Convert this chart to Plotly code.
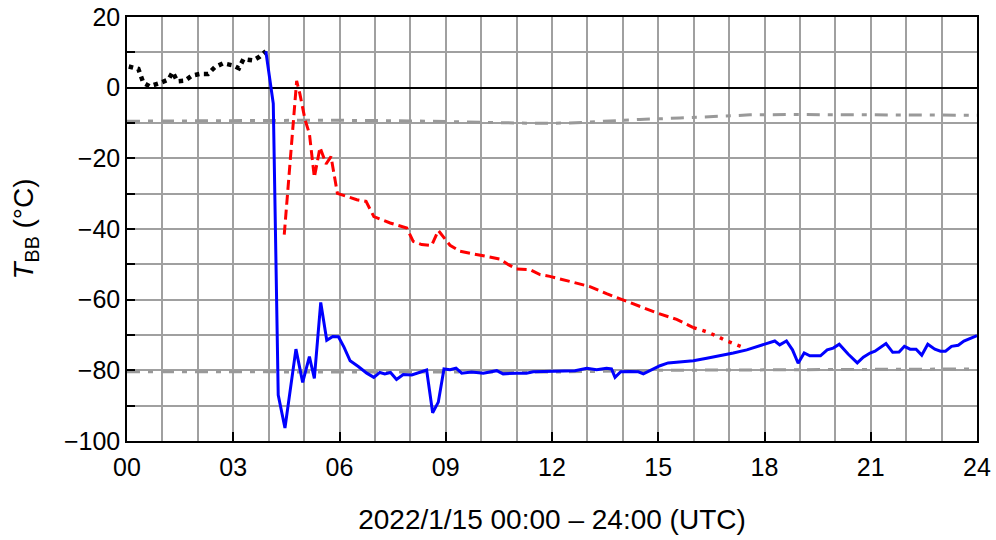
import plotly.graph_objects as go

# Hours since 2022-01-15 00:00 UTC and brightness temperature T_BB (deg C)

# Before the eruption (dotted black)
pre_t = [0.05, 0.32, 0.46, 0.64, 0.93, 1.17, 1.29, 1.42, 1.64, 1.83, 2.06, 2.29,
         2.48, 2.71, 2.99, 3.16, 3.29, 3.56, 3.75, 3.92]
pre_T = [6.0, 5.3, 1.4, 0.4, 1.3, 2.3, 4.4, 1.8, 2.0, 3.4, 3.9, 3.9,
         5.8, 6.9, 6.3, 5.5, 8.1, 7.7, 8.8, 10.3]

# Cloud-top minimum (solid blue)
min_t = [3.92, 4.06, 4.13, 4.27, 4.46, 4.77, 4.96, 5.15, 5.29, 5.47, 5.64, 5.81,
         5.97, 6.13, 6.30, 6.53, 6.77, 6.97, 7.14, 7.28, 7.44, 7.61, 7.80, 8.04,
         8.27, 8.46, 8.63, 8.79, 8.95, 9.12, 9.29, 9.45, 9.73, 10.06, 10.44, 10.62,
         11.0, 11.28, 11.47, 11.94, 12.32, 12.65, 12.98, 13.26, 13.54, 13.68, 13.78,
         13.94, 14.2, 14.44, 14.58, 14.77, 15.05, 15.28, 15.61, 15.99, 16.37, 16.74,
         17.12, 17.5, 17.82, 18.06, 18.29, 18.43, 18.62, 18.79, 18.95, 19.12, 19.28,
         19.58, 19.77, 19.94, 20.11, 20.36, 20.62, 20.79, 20.98, 21.12, 21.43, 21.62,
         21.8, 21.95, 22.11, 22.28, 22.44, 22.61, 22.81, 22.97, 23.11, 23.28, 23.47,
         23.63, 23.8, 24.0]
min_T = [10.3, 0.0, -4.5, -87.0, -96.3, -74.0, -83.4, -76.1, -82.3, -60.8, -71.5, -70.4,
         -70.5, -73.5, -77.3, -78.9, -80.8, -82.0, -80.6, -81.0, -80.6, -82.6, -81.2, -81.3,
         -80.6, -79.9, -92.0, -89.0, -79.6, -79.8, -79.4, -80.8, -80.5, -80.8, -80.1, -81.0,
         -80.8, -80.8, -80.4, -80.3, -80.1, -80.1, -79.4, -79.8, -79.4, -79.6, -82.0,
         -80.4, -80.3, -80.4, -81.0, -80.1, -78.7, -77.9, -77.7, -77.3, -76.6, -75.9,
         -75.1, -74.2, -73.1, -72.4, -71.7, -72.8, -71.7, -74.2, -78.0, -75.1, -75.9,
         -75.9, -74.2, -73.7, -72.6, -75.4, -77.9, -76.3, -75.1, -74.6, -72.4, -74.9,
         -74.8, -73.2, -74.0, -74.0, -75.7, -72.6, -74.0, -74.6, -74.6, -73.2, -72.9,
         -71.7, -71.0, -70.2]

# Warm-core maximum (dashed red, then dotted)
max_t = [4.44, 4.79, 4.88, 5.03, 5.15, 5.29, 5.45, 5.62, 5.76, 5.94, 6.49, 6.75,
         6.97, 7.43, 7.9, 8.08, 8.32, 8.6, 8.79, 9.12, 9.4, 9.87, 10.34, 10.53,
         10.77, 11.0, 11.38, 11.66, 11.94, 12.22, 12.7, 13.07, 13.54, 14.01, 14.48,
         14.95, 15.52, 15.99]
max_T = [-41.6, 1.9, -1.7, -9.2, -13.0, -25.4, -16.9, -21.6, -19.5, -29.9, -31.7, -32.2,
         -36.5, -38.3, -39.7, -43.5, -44.4, -44.7, -40.4, -44.6, -46.3, -47.2, -48.2, -48.5,
         -50.1, -51.3, -51.5, -52.9, -53.4, -54.1, -55.2, -56.3, -58.3, -60.1, -61.8,
         -63.7, -65.6, -67.9]
tail_t = [15.99, 16.37, 16.65, 16.93, 17.35]
tail_T = [-67.9, -69.1, -70.3, -71.7, -73.3]

# Reference levels (grey dash-dot)
upper_t = [0, 3, 5.5, 8, 10, 11.6, 12.5, 13.35, 14.48, 15.61, 16.65, 17.59, 18.62, 21, 24]
upper_T = [-9.5, -9.4, -9.2, -9.4, -9.8, -10.1, -10.0, -9.5, -9.0, -8.6, -8.1, -7.7, -7.6, -7.7, -7.8]
lower_t = [0, 6, 12, 15, 18, 24]
lower_T = [-80.4, -80.5, -80.5, -80.0, -79.9, -79.6]

x_ticks = list(range(0, 25, 3))
x_labels = [f"{h:02d}" for h in x_ticks]
y_ticks = list(range(-100, 21, 20))
y_labels = [str(v).replace("-", "\u2212") for v in y_ticks]

GREY = "#999999"
GRID = "#a0a0a0"
FONT = "Liberation Sans, Arial, sans-serif"

fig = go.Figure()
fig.add_trace(go.Scatter(x=upper_t, y=upper_T, mode="lines",
                         line=dict(color=GREY, width=3, dash="13px,8px,5px,8px")))
fig.add_trace(go.Scatter(x=lower_t, y=lower_T, mode="lines",
                         line=dict(color=GREY, width=3, dash="13px,8px,5px,8px")))
fig.add_trace(go.Scatter(x=pre_t, y=pre_T, mode="lines",
                         line=dict(color="black", width=4.5, dash="4.5px,4.5px")))
fig.add_trace(go.Scatter(x=max_t, y=max_T, mode="lines",
                         line=dict(color="#ff0000", width=3, dash="10px,5px")))
fig.add_trace(go.Scatter(x=tail_t, y=tail_T, mode="lines",
                         line=dict(color="#ff0000", width=3.5, dash="3.5px,6px")))
fig.add_trace(go.Scatter(x=min_t, y=min_T, mode="lines",
                         line=dict(color="#0000ff", width=3)))

fig.update_layout(
    width=996, height=540,
    margin=dict(l=127, r=19, t=17, b=99),
    paper_bgcolor="white", plot_bgcolor="white",
    showlegend=False,
    font=dict(family=FONT, size=23, color="black"),
)
fig.update_xaxes(
    range=[0, 24], tickvals=x_ticks, ticktext=x_labels, automargin=False,
    tickfont=dict(family=FONT, size=25, color="black"),
    ticks="inside", ticklen=9, tickwidth=1.5, tickcolor="black",
    showgrid=True, gridcolor=GRID, gridwidth=1.8,
    minor=dict(dtick=1, tick0=0, showgrid=True, gridcolor=GRID, gridwidth=1.8, ticks=""),
    showline=True, linecolor="black", linewidth=1.5, mirror=True,
    zeroline=False, ticklabelstandoff=3,
    title=dict(text="2022/1/15 00:00 \u2013 24:00 (UTC)", standoff=30),
)
fig.update_yaxes(
    range=[-100, 20], tickvals=y_ticks, ticktext=y_labels, automargin=False,
    tickfont=dict(family=FONT, size=25, color="black"),
    ticks="inside", ticklen=8, tickwidth=1.5, tickcolor="black",
    showgrid=True, gridcolor=GRID, gridwidth=1.8,
    minor=dict(dtick=10, tick0=0, showgrid=True, gridcolor=GRID, gridwidth=1.8,
               ticks="inside", ticklen=8, tickwidth=1.5, tickcolor="black"),
    showline=True, linecolor="black", linewidth=1.5, mirror=True,
    zeroline=True, zerolinecolor="black", zerolinewidth=1.5,
    title=dict(text="<i>T</i><sub>BB</sub> (°C)", standoff=22),
)

fig.write_html("out.html")
